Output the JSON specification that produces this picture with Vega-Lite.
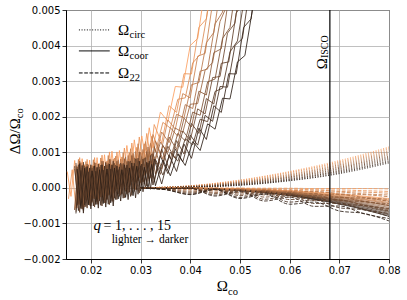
{
"$schema":"https://vega.github.io/schema/vega-lite/v6.json",
"width":323,"height":249,
"autosize":{"type":"none"},
"padding":{"left":66,"top":10,"right":18,"bottom":41},
"background":"white",
"config":{"view":{"stroke":"#000","strokeWidth":1},
"axis":{"labelFont":"DejaVu Sans","labelFontSize":10,"labelColor":"#000","tickColor":"#000","tickSize":4,"tickWidth":0.8,"domainColor":"#000","domainWidth":1,"gridColor":"#b0b0b0","gridWidth":0.8,"labelPadding":2},
"text":{"font":"Liberation Serif","color":"#000"}},
"datasets":{
"rise":[
{"k":1,"x":0.01525,"y":0.00046},{"k":1,"x":0.016,"y":-0.00024},{"k":1,"x":0.01675,"y":0.00077},{"k":1,"x":0.0175,"y":-0.00047},{"k":1,"x":0.01825,"y":0.00082},{"k":1,"x":0.019,"y":-0.00033},{"k":1,"x":0.01975,"y":0.00078},{"k":1,"x":0.0205,"y":-0.00027},{"k":1,"x":0.02125,"y":0.00085},{"k":1,"x":0.022,"y":-0.00019},{"k":1,"x":0.02275,"y":0.00093},{"k":1,"x":0.0235,"y":-0.0001},{"k":1,"x":0.02425,"y":0.00103},{"k":1,"x":0.025,"y":0.00009},{"k":1,"x":0.02575,"y":0.00105},{"k":1,"x":0.0265,"y":0.00022},{"k":1,"x":0.02725,"y":0.00119},{"k":1,"x":0.028,"y":0.00037},{"k":1,"x":0.02875,"y":0.00135},{"k":1,"x":0.0295,"y":0.00055},{"k":1,"x":0.03025,"y":0.00146},{"k":1,"x":0.031,"y":0.00085},{"k":1,"x":0.03175,"y":0.00169},{"k":1,"x":0.0325,"y":0.00111},{"k":1,"x":0.034,"y":0.00213},{"k":1,"x":0.0355,"y":0.00187},{"k":1,"x":0.037,"y":0.00285},{"k":1,"x":0.0385,"y":0.00283},{"k":1,"x":0.04,"y":0.004},{"k":1,"x":0.0415,"y":0.0042},{"k":1,"x":0.043,"y":0.00564},
{"k":2,"x":0.0155,"y":-0.00031},{"k":2,"x":0.01625,"y":0.00051},{"k":2,"x":0.017,"y":-0.00057},{"k":2,"x":0.01775,"y":0.00085},{"k":2,"x":0.0185,"y":-0.00053},{"k":2,"x":0.01925,"y":0.0008},{"k":2,"x":0.02,"y":-0.00038},{"k":2,"x":0.02075,"y":0.00085},{"k":2,"x":0.0215,"y":-0.00031},{"k":2,"x":0.02225,"y":0.00092},{"k":2,"x":0.023,"y":-0.00024},{"k":2,"x":0.02375,"y":0.00101},{"k":2,"x":0.0245,"y":-0.00015},{"k":2,"x":0.02525,"y":0.00101},{"k":2,"x":0.026,"y":0.00006},{"k":2,"x":0.02675,"y":0.00112},{"k":2,"x":0.0275,"y":0.00019},{"k":2,"x":0.02825,"y":0.00126},{"k":2,"x":0.029,"y":0.00034},{"k":2,"x":0.02975,"y":0.00143},{"k":2,"x":0.0305,"y":0.00063},{"k":2,"x":0.03125,"y":0.00153},{"k":2,"x":0.032,"y":0.00085},{"k":2,"x":0.03275,"y":0.00178},{"k":2,"x":0.03425,"y":0.00126},{"k":2,"x":0.03575,"y":0.00231},{"k":2,"x":0.03725,"y":0.00212},{"k":2,"x":0.03875,"y":0.00321},{"k":2,"x":0.04025,"y":0.0032},{"k":2,"x":0.04175,"y":0.00451},{"k":2,"x":0.04325,"y":0.00475},{"k":2,"x":0.04475,"y":0.00636},
{"k":3,"x":0.01725,"y":0.0006},{"k":3,"x":0.018,"y":-0.00036},{"k":3,"x":0.01875,"y":0.00065},{"k":3,"x":0.0195,"y":-0.00024},{"k":3,"x":0.02025,"y":0.00063},{"k":3,"x":0.021,"y":-0.00019},{"k":3,"x":0.02175,"y":0.00068},{"k":3,"x":0.0225,"y":-0.00012},{"k":3,"x":0.02325,"y":0.00076},{"k":3,"x":0.024,"y":-0.00004},{"k":3,"x":0.02475,"y":0.00084},{"k":3,"x":0.0255,"y":0.00012},{"k":3,"x":0.02625,"y":0.00087},{"k":3,"x":0.027,"y":0.00023},{"k":3,"x":0.02775,"y":0.00099},{"k":3,"x":0.0285,"y":0.00036},{"k":3,"x":0.02925,"y":0.00114},{"k":3,"x":0.03,"y":0.00059},{"k":3,"x":0.03075,"y":0.00124},{"k":3,"x":0.0315,"y":0.00078},{"k":3,"x":0.03225,"y":0.00145},{"k":3,"x":0.033,"y":0.00101},{"k":3,"x":0.0345,"y":0.00184},{"k":3,"x":0.036,"y":0.00168},{"k":3,"x":0.0375,"y":0.00249},{"k":3,"x":0.039,"y":0.00253},{"k":3,"x":0.0405,"y":0.00351},{"k":3,"x":0.042,"y":0.00375},{"k":3,"x":0.0435,"y":0.00496},{"k":3,"x":0.045,"y":0.00549},
{"k":4,"x":0.01675,"y":-0.00062},{"k":4,"x":0.0175,"y":0.0008},{"k":4,"x":0.01825,"y":-0.00058},{"k":4,"x":0.019,"y":0.00074},{"k":4,"x":0.01975,"y":-0.00044},{"k":4,"x":0.0205,"y":0.00079},{"k":4,"x":0.02125,"y":-0.00039},{"k":4,"x":0.022,"y":0.00084},{"k":4,"x":0.02275,"y":-0.00033},{"k":4,"x":0.0235,"y":0.00091},{"k":4,"x":0.02425,"y":-0.00025},{"k":4,"x":0.025,"y":0.00089},{"k":4,"x":0.02575,"y":-0.00006},{"k":4,"x":0.0265,"y":0.00099},{"k":4,"x":0.02725,"y":0.00004},{"k":4,"x":0.028,"y":0.0011},{"k":4,"x":0.02875,"y":0.00017},{"k":4,"x":0.0295,"y":0.00124},{"k":4,"x":0.03025,"y":0.00042},{"k":4,"x":0.031,"y":0.0013},{"k":4,"x":0.03175,"y":0.0006},{"k":4,"x":0.0325,"y":0.0015},{"k":4,"x":0.034,"y":0.00093},{"k":4,"x":0.0355,"y":0.00191},{"k":4,"x":0.037,"y":0.00165},{"k":4,"x":0.0385,"y":0.00265},{"k":4,"x":0.04,"y":0.00253},{"k":4,"x":0.0415,"y":0.0037},{"k":4,"x":0.043,"y":0.00378},{"k":4,"x":0.0445,"y":0.0052},
{"k":5,"x":0.017,"y":0.00063},{"k":5,"x":0.01775,"y":-0.00047},{"k":5,"x":0.0185,"y":0.00067},{"k":5,"x":0.01925,"y":-0.00035},{"k":5,"x":0.02,"y":0.00063},{"k":5,"x":0.02075,"y":-0.00031},{"k":5,"x":0.0215,"y":0.00068},{"k":5,"x":0.02225,"y":-0.00026},{"k":5,"x":0.023,"y":0.00073},{"k":5,"x":0.02375,"y":-0.00019},{"k":5,"x":0.0245,"y":0.0008},{"k":5,"x":0.02525,"y":-0.00004},{"k":5,"x":0.026,"y":0.00081},{"k":5,"x":0.02675,"y":0.00005},{"k":5,"x":0.0275,"y":0.00091},{"k":5,"x":0.02825,"y":0.00016},{"k":5,"x":0.029,"y":0.00102},{"k":5,"x":0.02975,"y":0.00029},{"k":5,"x":0.0305,"y":0.00108},{"k":5,"x":0.03125,"y":0.00052},{"k":5,"x":0.032,"y":0.00125},{"k":5,"x":0.03275,"y":0.00071},{"k":5,"x":0.03425,"y":0.00157},{"k":5,"x":0.03575,"y":0.00127},{"k":5,"x":0.03725,"y":0.00207},{"k":5,"x":0.03875,"y":0.00197},{"k":5,"x":0.04025,"y":0.0029},{"k":5,"x":0.04175,"y":0.00296},{"k":5,"x":0.04325,"y":0.00408},{"k":5,"x":0.04475,"y":0.00437},{"k":5,"x":0.04625,"y":0.00577},
{"k":6,"x":0.01725,"y":-0.00057},{"k":6,"x":0.018,"y":0.00071},{"k":6,"x":0.01875,"y":-0.00054},{"k":6,"x":0.0195,"y":0.00065},{"k":6,"x":0.02025,"y":-0.00041},{"k":6,"x":0.021,"y":0.0007},{"k":6,"x":0.02175,"y":-0.00036},{"k":6,"x":0.0225,"y":0.00075},{"k":6,"x":0.02325,"y":-0.00031},{"k":6,"x":0.024,"y":0.0008},{"k":6,"x":0.02475,"y":-0.00024},{"k":6,"x":0.0255,"y":0.00079},{"k":6,"x":0.02625,"y":-0.00007},{"k":6,"x":0.027,"y":0.00087},{"k":6,"x":0.02775,"y":0.00002},{"k":6,"x":0.0285,"y":0.00097},{"k":6,"x":0.02925,"y":0.00013},{"k":6,"x":0.03,"y":0.001},{"k":6,"x":0.03075,"y":0.00035},{"k":6,"x":0.0315,"y":0.00115},{"k":6,"x":0.03225,"y":0.00051},{"k":6,"x":0.033,"y":0.00132},{"k":6,"x":0.0345,"y":0.00081},{"k":6,"x":0.036,"y":0.00169},{"k":6,"x":0.0375,"y":0.00145},{"k":6,"x":0.039,"y":0.00234},{"k":6,"x":0.0405,"y":0.00223},{"k":6,"x":0.042,"y":0.00328},{"k":6,"x":0.0435,"y":0.00334},{"k":6,"x":0.045,"y":0.00461},{"k":6,"x":0.0465,"y":0.00494},{"k":6,"x":0.048,"y":0.00651},
{"k":7,"x":0.01675,"y":0.00053},{"k":7,"x":0.0175,"y":-0.00044},{"k":7,"x":0.01825,"y":0.00056},{"k":7,"x":0.019,"y":-0.00034},{"k":7,"x":0.01975,"y":0.00052},{"k":7,"x":0.0205,"y":-0.0003},{"k":7,"x":0.02125,"y":0.00056},{"k":7,"x":0.022,"y":-0.00026},{"k":7,"x":0.02275,"y":0.00061},{"k":7,"x":0.0235,"y":-0.00021},{"k":7,"x":0.02425,"y":0.00066},{"k":7,"x":0.025,"y":-0.00008},{"k":7,"x":0.02575,"y":0.00066},{"k":7,"x":0.0265,"y":0.0},{"k":7,"x":0.02725,"y":0.00074},{"k":7,"x":0.028,"y":0.00009},{"k":7,"x":0.02875,"y":0.00084},{"k":7,"x":0.0295,"y":0.00019},{"k":7,"x":0.03025,"y":0.00088},{"k":7,"x":0.031,"y":0.00039},{"k":7,"x":0.03175,"y":0.00102},{"k":7,"x":0.0325,"y":0.00054},{"k":7,"x":0.034,"y":0.00128},{"k":7,"x":0.0355,"y":0.001},{"k":7,"x":0.037,"y":0.00168},{"k":7,"x":0.0385,"y":0.00156},{"k":7,"x":0.04,"y":0.00235},{"k":7,"x":0.0415,"y":0.00237},{"k":7,"x":0.043,"y":0.00331},{"k":7,"x":0.0445,"y":0.00352},{"k":7,"x":0.046,"y":0.00468},{"k":7,"x":0.0475,"y":0.00516},
{"k":8,"x":0.017,"y":-0.00067},{"k":8,"x":0.01775,"y":0.00075},{"k":8,"x":0.0185,"y":-0.00064},{"k":8,"x":0.01925,"y":0.00067},{"k":8,"x":0.02,"y":-0.00051},{"k":8,"x":0.02075,"y":0.00071},{"k":8,"x":0.0215,"y":-0.00047},{"k":8,"x":0.02225,"y":0.00075},{"k":8,"x":0.023,"y":-0.00043},{"k":8,"x":0.02375,"y":0.0008},{"k":8,"x":0.0245,"y":-0.00038},{"k":8,"x":0.02525,"y":0.00075},{"k":8,"x":0.026,"y":-0.00021},{"k":8,"x":0.02675,"y":0.00082},{"k":8,"x":0.0275,"y":-0.00014},{"k":8,"x":0.02825,"y":0.00091},{"k":8,"x":0.029,"y":-0.00005},{"k":8,"x":0.02975,"y":0.00101},{"k":8,"x":0.0305,"y":0.00016},{"k":8,"x":0.03125,"y":0.00102},{"k":8,"x":0.032,"y":0.00029},{"k":8,"x":0.03275,"y":0.00116},{"k":8,"x":0.03425,"y":0.00053},{"k":8,"x":0.03575,"y":0.00143},{"k":8,"x":0.03725,"y":0.00108},{"k":8,"x":0.03875,"y":0.00196},{"k":8,"x":0.04025,"y":0.00171},{"k":8,"x":0.04175,"y":0.00272},{"k":8,"x":0.04325,"y":0.00261},{"k":8,"x":0.04475,"y":0.0038},{"k":8,"x":0.04625,"y":0.00391},{"k":8,"x":0.04775,"y":0.00535},
{"k":9,"x":0.01725,"y":0.00059},{"k":9,"x":0.018,"y":-0.00052},{"k":9,"x":0.01875,"y":0.00061},{"k":9,"x":0.0195,"y":-0.00042},{"k":9,"x":0.02025,"y":0.00056},{"k":9,"x":0.021,"y":-0.00039},{"k":9,"x":0.02175,"y":0.00059},{"k":9,"x":0.0225,"y":-0.00035},{"k":9,"x":0.02325,"y":0.00064},{"k":9,"x":0.024,"y":-0.0003},{"k":9,"x":0.02475,"y":0.00069},{"k":9,"x":0.0255,"y":-0.00017},{"k":9,"x":0.02625,"y":0.00066},{"k":9,"x":0.027,"y":-0.0001},{"k":9,"x":0.02775,"y":0.00074},{"k":9,"x":0.0285,"y":-0.00002},{"k":9,"x":0.02925,"y":0.00082},{"k":9,"x":0.03,"y":0.00015},{"k":9,"x":0.03075,"y":0.00084},{"k":9,"x":0.0315,"y":0.00026},{"k":9,"x":0.03225,"y":0.00096},{"k":9,"x":0.033,"y":0.00039},{"k":9,"x":0.0345,"y":0.00119},{"k":9,"x":0.036,"y":0.00082},{"k":9,"x":0.0375,"y":0.00153},{"k":9,"x":0.039,"y":0.00132},{"k":9,"x":0.0405,"y":0.00213},{"k":9,"x":0.042,"y":0.00204},{"k":9,"x":0.0435,"y":0.00298},{"k":9,"x":0.045,"y":0.00306},{"k":9,"x":0.0465,"y":0.0042},{"k":9,"x":0.048,"y":0.00451},{"k":9,"x":0.0495,"y":0.00594},
{"k":10,"x":0.01675,"y":-0.00062},{"k":10,"x":0.0175,"y":0.00065},{"k":10,"x":0.01825,"y":-0.0006},{"k":10,"x":0.019,"y":0.00058},{"k":10,"x":0.01975,"y":-0.00049},{"k":10,"x":0.0205,"y":0.00061},{"k":10,"x":0.02125,"y":-0.00046},{"k":10,"x":0.022,"y":0.00064},{"k":10,"x":0.02275,"y":-0.00042},{"k":10,"x":0.0235,"y":0.00068},{"k":10,"x":0.02425,"y":-0.00038},{"k":10,"x":0.025,"y":0.00064},{"k":10,"x":0.02575,"y":-0.00024},{"k":10,"x":0.0265,"y":0.00069},{"k":10,"x":0.02725,"y":-0.00018},{"k":10,"x":0.028,"y":0.00076},{"k":10,"x":0.02875,"y":-0.0001},{"k":10,"x":0.0295,"y":0.00084},{"k":10,"x":0.03025,"y":0.00008},{"k":10,"x":0.031,"y":0.00085},{"k":10,"x":0.03175,"y":0.00018},{"k":10,"x":0.0325,"y":0.00096},{"k":10,"x":0.034,"y":0.00038},{"k":10,"x":0.0355,"y":0.00117},{"k":10,"x":0.037,"y":0.00083},{"k":10,"x":0.0385,"y":0.0016},{"k":10,"x":0.04,"y":0.00134},{"k":10,"x":0.0415,"y":0.00222},{"k":10,"x":0.043,"y":0.00208},{"k":10,"x":0.0445,"y":0.0031},{"k":10,"x":0.046,"y":0.00313},{"k":10,"x":0.0475,"y":0.00435},{"k":10,"x":0.049,"y":0.00463},{"k":10,"x":0.0505,"y":0.00615},
{"k":11,"x":0.017,"y":0.0007},{"k":11,"x":0.01775,"y":-0.00069},{"k":11,"x":0.0185,"y":0.00072},{"k":11,"x":0.01925,"y":-0.00057},{"k":11,"x":0.02,"y":0.00065},{"k":11,"x":0.02075,"y":-0.00054},{"k":11,"x":0.0215,"y":0.00067},{"k":11,"x":0.02225,"y":-0.00051},{"k":11,"x":0.023,"y":0.00071},{"k":11,"x":0.02375,"y":-0.00047},{"k":11,"x":0.0245,"y":0.00075},{"k":11,"x":0.02525,"y":-0.00033},{"k":11,"x":0.026,"y":0.0007},{"k":11,"x":0.02675,"y":-0.00028},{"k":11,"x":0.0275,"y":0.00075},{"k":11,"x":0.02825,"y":-0.00021},{"k":11,"x":0.029,"y":0.00082},{"k":11,"x":0.02975,"y":-0.00014},{"k":11,"x":0.0305,"y":0.00081},{"k":11,"x":0.03125,"y":0.00005},{"k":11,"x":0.032,"y":0.00091},{"k":11,"x":0.03275,"y":0.00016},{"k":11,"x":0.03425,"y":0.00109},{"k":11,"x":0.03575,"y":0.00054},{"k":11,"x":0.03725,"y":0.00133},{"k":11,"x":0.03875,"y":0.00095},{"k":11,"x":0.04025,"y":0.00181},{"k":11,"x":0.04175,"y":0.00153},{"k":11,"x":0.04325,"y":0.00251},{"k":11,"x":0.04475,"y":0.00236},{"k":11,"x":0.04625,"y":0.0035},{"k":11,"x":0.04775,"y":0.00354},{"k":11,"x":0.04925,"y":0.00491},{"k":11,"x":0.05075,"y":0.00523},
{"k":12,"x":0.01725,"y":-0.00049},{"k":12,"x":0.018,"y":0.00049},{"k":12,"x":0.01875,"y":-0.00048},{"k":12,"x":0.0195,"y":0.00045},{"k":12,"x":0.02025,"y":-0.00038},{"k":12,"x":0.021,"y":0.00047},{"k":12,"x":0.02175,"y":-0.00036},{"k":12,"x":0.0225,"y":0.0005},{"k":12,"x":0.02325,"y":-0.00033},{"k":12,"x":0.024,"y":0.00053},{"k":12,"x":0.02475,"y":-0.00029},{"k":12,"x":0.0255,"y":0.00051},{"k":12,"x":0.02625,"y":-0.00017},{"k":12,"x":0.027,"y":0.00056},{"k":12,"x":0.02775,"y":-0.00012},{"k":12,"x":0.0285,"y":0.00061},{"k":12,"x":0.02925,"y":-0.00005},{"k":12,"x":0.03,"y":0.00062},{"k":12,"x":0.03075,"y":0.0001},{"k":12,"x":0.0315,"y":0.0007},{"k":12,"x":0.03225,"y":0.00019},{"k":12,"x":0.033,"y":0.0008},{"k":12,"x":0.0345,"y":0.00036},{"k":12,"x":0.036,"y":0.001},{"k":12,"x":0.0375,"y":0.00075},{"k":12,"x":0.039,"y":0.00138},{"k":12,"x":0.0405,"y":0.00121},{"k":12,"x":0.042,"y":0.00193},{"k":12,"x":0.0435,"y":0.00186},{"k":12,"x":0.045,"y":0.00271},{"k":12,"x":0.0465,"y":0.0028},{"k":12,"x":0.048,"y":0.00382},{"k":12,"x":0.0495,"y":0.00413},{"k":12,"x":0.051,"y":0.00542},
{"k":13,"x":0.01675,"y":0.00061},{"k":13,"x":0.0175,"y":-0.00064},{"k":13,"x":0.01825,"y":0.00063},{"k":13,"x":0.019,"y":-0.00053},{"k":13,"x":0.01975,"y":0.00056},{"k":13,"x":0.0205,"y":-0.00051},{"k":13,"x":0.02125,"y":0.00058},{"k":13,"x":0.022,"y":-0.00049},{"k":13,"x":0.02275,"y":0.00061},{"k":13,"x":0.0235,"y":-0.00046},{"k":13,"x":0.02425,"y":0.00064},{"k":13,"x":0.025,"y":-0.00033},{"k":13,"x":0.02575,"y":0.00059},{"k":13,"x":0.0265,"y":-0.00029},{"k":13,"x":0.02725,"y":0.00064},{"k":13,"x":0.028,"y":-0.00024},{"k":13,"x":0.02875,"y":0.00069},{"k":13,"x":0.0295,"y":-0.00018},{"k":13,"x":0.03025,"y":0.00067},{"k":13,"x":0.031,"y":-0.00001},{"k":13,"x":0.03175,"y":0.00075},{"k":13,"x":0.0325,"y":0.00008},{"k":13,"x":0.034,"y":0.0009},{"k":13,"x":0.0355,"y":0.0004},{"k":13,"x":0.037,"y":0.00109},{"k":13,"x":0.0385,"y":0.00073},{"k":13,"x":0.04,"y":0.00148},{"k":13,"x":0.0415,"y":0.0012},{"k":13,"x":0.043,"y":0.00204},{"k":13,"x":0.0445,"y":0.00187},{"k":13,"x":0.046,"y":0.00285},{"k":13,"x":0.0475,"y":0.00283},{"k":13,"x":0.049,"y":0.004},{"k":13,"x":0.0505,"y":0.0042},{"k":13,"x":0.052,"y":0.00564},
{"k":14,"x":0.017,"y":-0.00072},{"k":14,"x":0.01775,"y":0.00068},{"k":14,"x":0.0185,"y":-0.00071},{"k":14,"x":0.01925,"y":0.0006},{"k":14,"x":0.02,"y":-0.00059},{"k":14,"x":0.02075,"y":0.00062},{"k":14,"x":0.0215,"y":-0.00057},{"k":14,"x":0.02225,"y":0.00065},{"k":14,"x":0.023,"y":-0.00054},{"k":14,"x":0.02375,"y":0.00067},{"k":14,"x":0.0245,"y":-0.00051},{"k":14,"x":0.02525,"y":0.00061},{"k":14,"x":0.026,"y":-0.00037},{"k":14,"x":0.02675,"y":0.00065},{"k":14,"x":0.0275,"y":-0.00033},{"k":14,"x":0.02825,"y":0.0007},{"k":14,"x":0.029,"y":-0.00028},{"k":14,"x":0.02975,"y":0.00075},{"k":14,"x":0.0305,"y":-0.00011},{"k":14,"x":0.03125,"y":0.00072},{"k":14,"x":0.032,"y":-0.00004},{"k":14,"x":0.03275,"y":0.00081},{"k":14,"x":0.03425,"y":0.00011},{"k":14,"x":0.03575,"y":0.00092},{"k":14,"x":0.03725,"y":0.00046},{"k":14,"x":0.03875,"y":0.00123},{"k":14,"x":0.04025,"y":0.00083},{"k":14,"x":0.04175,"y":0.00168},{"k":14,"x":0.04325,"y":0.00136},{"k":14,"x":0.04475,"y":0.00231},{"k":14,"x":0.04625,"y":0.00212},{"k":14,"x":0.04775,"y":0.00321},{"k":14,"x":0.04925,"y":0.0032},{"k":14,"x":0.05075,"y":0.00451},{"k":14,"x":0.05225,"y":0.00475},{"k":14,"x":0.05375,"y":0.00636},
{"k":15,"x":0.01725,"y":0.00053},{"k":15,"x":0.018,"y":-0.00058},{"k":15,"x":0.01875,"y":0.00055},{"k":15,"x":0.0195,"y":-0.00048},{"k":15,"x":0.02025,"y":0.00048},{"k":15,"x":0.021,"y":-0.00047},{"k":15,"x":0.02175,"y":0.00051},{"k":15,"x":0.0225,"y":-0.00044},{"k":15,"x":0.02325,"y":0.00053},{"k":15,"x":0.024,"y":-0.00042},{"k":15,"x":0.02475,"y":0.00056},{"k":15,"x":0.0255,"y":-0.00031},{"k":15,"x":0.02625,"y":0.00051},{"k":15,"x":0.027,"y":-0.00027},{"k":15,"x":0.02775,"y":0.00056},{"k":15,"x":0.0285,"y":-0.00022},{"k":15,"x":0.02925,"y":0.00061},{"k":15,"x":0.03,"y":-0.00009},{"k":15,"x":0.03075,"y":0.00058},{"k":15,"x":0.0315,"y":-0.00002},{"k":15,"x":0.03225,"y":0.00066},{"k":15,"x":0.033,"y":0.00006},{"k":15,"x":0.0345,"y":0.00079},{"k":15,"x":0.036,"y":0.00034},{"k":15,"x":0.0375,"y":0.00095},{"k":15,"x":0.039,"y":0.00063},{"k":15,"x":0.0405,"y":0.0013},{"k":15,"x":0.042,"y":0.00105},{"k":15,"x":0.0435,"y":0.0018},{"k":15,"x":0.045,"y":0.00165},{"k":15,"x":0.0465,"y":0.00252},{"k":15,"x":0.048,"y":0.0025},{"k":15,"x":0.0495,"y":0.00354},{"k":15,"x":0.051,"y":0.00372},{"k":15,"x":0.0525,"y":0.00499},{"k":15,"x":0.054,"y":0.00546}
],
"sm":[
{"k":1,"t":"coor","x":0.03,"y":0},{"k":1,"t":"coor","x":0.04,"y":-0.00001},{"k":1,"t":"coor","x":0.05,"y":-0.00003},{"k":1,"t":"coor","x":0.06,"y":-0.00008},{"k":1,"t":"coor","x":0.068,"y":-0.00015},{"k":1,"t":"coor","x":0.074,"y":-0.00022},{"k":1,"t":"coor","x":0.08,"y":-0.0003},
{"k":2,"t":"coor","x":0.03,"y":0},{"k":2,"t":"coor","x":0.04,"y":-0.00001},{"k":2,"t":"coor","x":0.05,"y":-0.00003},{"k":2,"t":"coor","x":0.06,"y":-0.00009},{"k":2,"t":"coor","x":0.068,"y":-0.00017},{"k":2,"t":"coor","x":0.074,"y":-0.00024},{"k":2,"t":"coor","x":0.08,"y":-0.00034},
{"k":3,"t":"coor","x":0.03,"y":0},{"k":3,"t":"coor","x":0.04,"y":-0.00001},{"k":3,"t":"coor","x":0.05,"y":-0.00004},{"k":3,"t":"coor","x":0.06,"y":-0.0001},{"k":3,"t":"coor","x":0.068,"y":-0.00019},{"k":3,"t":"coor","x":0.074,"y":-0.00027},{"k":3,"t":"coor","x":0.08,"y":-0.00037},
{"k":4,"t":"coor","x":0.03,"y":0},{"k":4,"t":"coor","x":0.04,"y":-0.00001},{"k":4,"t":"coor","x":0.05,"y":-0.00004},{"k":4,"t":"coor","x":0.06,"y":-0.00011},{"k":4,"t":"coor","x":0.068,"y":-0.00021},{"k":4,"t":"coor","x":0.074,"y":-0.0003},{"k":4,"t":"coor","x":0.08,"y":-0.00041},
{"k":5,"t":"coor","x":0.03,"y":0},{"k":5,"t":"coor","x":0.04,"y":-0.00001},{"k":5,"t":"coor","x":0.05,"y":-0.00005},{"k":5,"t":"coor","x":0.06,"y":-0.00012},{"k":5,"t":"coor","x":0.068,"y":-0.00022},{"k":5,"t":"coor","x":0.074,"y":-0.00032},{"k":5,"t":"coor","x":0.08,"y":-0.00044},
{"k":6,"t":"coor","x":0.03,"y":0},{"k":6,"t":"coor","x":0.04,"y":-0.00001},{"k":6,"t":"coor","x":0.05,"y":-0.00005},{"k":6,"t":"coor","x":0.06,"y":-0.00013},{"k":6,"t":"coor","x":0.068,"y":-0.00024},{"k":6,"t":"coor","x":0.074,"y":-0.00035},{"k":6,"t":"coor","x":0.08,"y":-0.00048},
{"k":7,"t":"coor","x":0.03,"y":0},{"k":7,"t":"coor","x":0.04,"y":-0.00001},{"k":7,"t":"coor","x":0.05,"y":-0.00005},{"k":7,"t":"coor","x":0.06,"y":-0.00014},{"k":7,"t":"coor","x":0.068,"y":-0.00026},{"k":7,"t":"coor","x":0.074,"y":-0.00037},{"k":7,"t":"coor","x":0.08,"y":-0.00051},
{"k":8,"t":"coor","x":0.03,"y":0},{"k":8,"t":"coor","x":0.04,"y":-0.00001},{"k":8,"t":"coor","x":0.05,"y":-0.00006},{"k":8,"t":"coor","x":0.06,"y":-0.00015},{"k":8,"t":"coor","x":0.068,"y":-0.00028},{"k":8,"t":"coor","x":0.074,"y":-0.0004},{"k":8,"t":"coor","x":0.08,"y":-0.00055},
{"k":9,"t":"coor","x":0.03,"y":0},{"k":9,"t":"coor","x":0.04,"y":-0.00001},{"k":9,"t":"coor","x":0.05,"y":-0.00006},{"k":9,"t":"coor","x":0.06,"y":-0.00016},{"k":9,"t":"coor","x":0.068,"y":-0.0003},{"k":9,"t":"coor","x":0.074,"y":-0.00043},{"k":9,"t":"coor","x":0.08,"y":-0.00059},
{"k":10,"t":"coor","x":0.03,"y":0},{"k":10,"t":"coor","x":0.04,"y":-0.00001},{"k":10,"t":"coor","x":0.05,"y":-0.00006},{"k":10,"t":"coor","x":0.06,"y":-0.00017},{"k":10,"t":"coor","x":0.068,"y":-0.00031},{"k":10,"t":"coor","x":0.074,"y":-0.00045},{"k":10,"t":"coor","x":0.08,"y":-0.00062},
{"k":11,"t":"coor","x":0.03,"y":0},{"k":11,"t":"coor","x":0.04,"y":-0.00001},{"k":11,"t":"coor","x":0.05,"y":-0.00007},{"k":11,"t":"coor","x":0.06,"y":-0.00018},{"k":11,"t":"coor","x":0.068,"y":-0.00033},{"k":11,"t":"coor","x":0.074,"y":-0.00048},{"k":11,"t":"coor","x":0.08,"y":-0.00066},
{"k":12,"t":"coor","x":0.03,"y":0},{"k":12,"t":"coor","x":0.04,"y":-0.00001},{"k":12,"t":"coor","x":0.05,"y":-0.00007},{"k":12,"t":"coor","x":0.06,"y":-0.00019},{"k":12,"t":"coor","x":0.068,"y":-0.00035},{"k":12,"t":"coor","x":0.074,"y":-0.0005},{"k":12,"t":"coor","x":0.08,"y":-0.00069},
{"k":13,"t":"coor","x":0.03,"y":0},{"k":13,"t":"coor","x":0.04,"y":-0.00001},{"k":13,"t":"coor","x":0.05,"y":-0.00007},{"k":13,"t":"coor","x":0.06,"y":-0.0002},{"k":13,"t":"coor","x":0.068,"y":-0.00037},{"k":13,"t":"coor","x":0.074,"y":-0.00053},{"k":13,"t":"coor","x":0.08,"y":-0.00073},
{"k":14,"t":"coor","x":0.03,"y":0},{"k":14,"t":"coor","x":0.04,"y":-0.00001},{"k":14,"t":"coor","x":0.05,"y":-0.00008},{"k":14,"t":"coor","x":0.06,"y":-0.00021},{"k":14,"t":"coor","x":0.068,"y":-0.00039},{"k":14,"t":"coor","x":0.074,"y":-0.00056},{"k":14,"t":"coor","x":0.08,"y":-0.00076},
{"k":15,"t":"coor","x":0.03,"y":0},{"k":15,"t":"coor","x":0.04,"y":-0.00001},{"k":15,"t":"coor","x":0.05,"y":-0.00008},{"k":15,"t":"coor","x":0.06,"y":-0.00022},{"k":15,"t":"coor","x":0.068,"y":-0.0004},{"k":15,"t":"coor","x":0.074,"y":-0.00058},{"k":15,"t":"coor","x":0.08,"y":-0.0008},
{"k":1,"t":"circ","x":0.03,"y":0},{"k":1,"t":"circ","x":0.04,"y":0.00006},{"k":1,"t":"circ","x":0.05,"y":0.00022},{"k":1,"t":"circ","x":0.06,"y":0.00046},{"k":1,"t":"circ","x":0.068,"y":0.0007},{"k":1,"t":"circ","x":0.074,"y":0.00091},{"k":1,"t":"circ","x":0.08,"y":0.00115},
{"k":2,"t":"circ","x":0.03,"y":0},{"k":2,"t":"circ","x":0.04,"y":0.00006},{"k":2,"t":"circ","x":0.05,"y":0.00021},{"k":2,"t":"circ","x":0.06,"y":0.00044},{"k":2,"t":"circ","x":0.068,"y":0.00067},{"k":2,"t":"circ","x":0.074,"y":0.00088},{"k":2,"t":"circ","x":0.08,"y":0.00112},
{"k":3,"t":"circ","x":0.03,"y":0},{"k":3,"t":"circ","x":0.04,"y":0.00005},{"k":3,"t":"circ","x":0.05,"y":0.00019},{"k":3,"t":"circ","x":0.06,"y":0.00042},{"k":3,"t":"circ","x":0.068,"y":0.00065},{"k":3,"t":"circ","x":0.074,"y":0.00085},{"k":3,"t":"circ","x":0.08,"y":0.00109},
{"k":4,"t":"circ","x":0.03,"y":0},{"k":4,"t":"circ","x":0.04,"y":0.00005},{"k":4,"t":"circ","x":0.05,"y":0.00018},{"k":4,"t":"circ","x":0.06,"y":0.00039},{"k":4,"t":"circ","x":0.068,"y":0.00062},{"k":4,"t":"circ","x":0.074,"y":0.00082},{"k":4,"t":"circ","x":0.08,"y":0.00105},
{"k":5,"t":"circ","x":0.03,"y":0},{"k":5,"t":"circ","x":0.04,"y":0.00005},{"k":5,"t":"circ","x":0.05,"y":0.00017},{"k":5,"t":"circ","x":0.06,"y":0.00037},{"k":5,"t":"circ","x":0.068,"y":0.00059},{"k":5,"t":"circ","x":0.074,"y":0.00079},{"k":5,"t":"circ","x":0.08,"y":0.00102},
{"k":6,"t":"circ","x":0.03,"y":0},{"k":6,"t":"circ","x":0.04,"y":0.00004},{"k":6,"t":"circ","x":0.05,"y":0.00016},{"k":6,"t":"circ","x":0.06,"y":0.00035},{"k":6,"t":"circ","x":0.068,"y":0.00057},{"k":6,"t":"circ","x":0.074,"y":0.00076},{"k":6,"t":"circ","x":0.08,"y":0.00099},
{"k":7,"t":"circ","x":0.03,"y":0},{"k":7,"t":"circ","x":0.04,"y":0.00004},{"k":7,"t":"circ","x":0.05,"y":0.00015},{"k":7,"t":"circ","x":0.06,"y":0.00033},{"k":7,"t":"circ","x":0.068,"y":0.00054},{"k":7,"t":"circ","x":0.074,"y":0.00073},{"k":7,"t":"circ","x":0.08,"y":0.00096},
{"k":8,"t":"circ","x":0.03,"y":0},{"k":8,"t":"circ","x":0.04,"y":0.00003},{"k":8,"t":"circ","x":0.05,"y":0.00014},{"k":8,"t":"circ","x":0.06,"y":0.00031},{"k":8,"t":"circ","x":0.068,"y":0.00052},{"k":8,"t":"circ","x":0.074,"y":0.0007},{"k":8,"t":"circ","x":0.08,"y":0.00093},
{"k":9,"t":"circ","x":0.03,"y":0},{"k":9,"t":"circ","x":0.04,"y":0.00003},{"k":9,"t":"circ","x":0.05,"y":0.00013},{"k":9,"t":"circ","x":0.06,"y":0.0003},{"k":9,"t":"circ","x":0.068,"y":0.00049},{"k":9,"t":"circ","x":0.074,"y":0.00068},{"k":9,"t":"circ","x":0.08,"y":0.00089},
{"k":10,"t":"circ","x":0.03,"y":0},{"k":10,"t":"circ","x":0.04,"y":0.00003},{"k":10,"t":"circ","x":0.05,"y":0.00012},{"k":10,"t":"circ","x":0.06,"y":0.00028},{"k":10,"t":"circ","x":0.068,"y":0.00047},{"k":10,"t":"circ","x":0.074,"y":0.00065},{"k":10,"t":"circ","x":0.08,"y":0.00086},
{"k":11,"t":"circ","x":0.03,"y":0},{"k":11,"t":"circ","x":0.04,"y":0.00002},{"k":11,"t":"circ","x":0.05,"y":0.00011},{"k":11,"t":"circ","x":0.06,"y":0.00026},{"k":11,"t":"circ","x":0.068,"y":0.00044},{"k":11,"t":"circ","x":0.074,"y":0.00062},{"k":11,"t":"circ","x":0.08,"y":0.00083},
{"k":12,"t":"circ","x":0.03,"y":0},{"k":12,"t":"circ","x":0.04,"y":0.00002},{"k":12,"t":"circ","x":0.05,"y":0.0001},{"k":12,"t":"circ","x":0.06,"y":0.00024},{"k":12,"t":"circ","x":0.068,"y":0.00042},{"k":12,"t":"circ","x":0.074,"y":0.00059},{"k":12,"t":"circ","x":0.08,"y":0.0008},
{"k":13,"t":"circ","x":0.03,"y":0},{"k":13,"t":"circ","x":0.04,"y":0.00002},{"k":13,"t":"circ","x":0.05,"y":0.00009},{"k":13,"t":"circ","x":0.06,"y":0.00023},{"k":13,"t":"circ","x":0.068,"y":0.0004},{"k":13,"t":"circ","x":0.074,"y":0.00056},{"k":13,"t":"circ","x":0.08,"y":0.00076},
{"k":14,"t":"circ","x":0.03,"y":0},{"k":14,"t":"circ","x":0.04,"y":0.00002},{"k":14,"t":"circ","x":0.05,"y":0.00008},{"k":14,"t":"circ","x":0.06,"y":0.00021},{"k":14,"t":"circ","x":0.068,"y":0.00037},{"k":14,"t":"circ","x":0.074,"y":0.00054},{"k":14,"t":"circ","x":0.08,"y":0.00073},
{"k":15,"t":"circ","x":0.03,"y":0},{"k":15,"t":"circ","x":0.04,"y":0.00001},{"k":15,"t":"circ","x":0.05,"y":0.00007},{"k":15,"t":"circ","x":0.06,"y":0.0002},{"k":15,"t":"circ","x":0.068,"y":0.00035},{"k":15,"t":"circ","x":0.074,"y":0.00051},{"k":15,"t":"circ","x":0.08,"y":0.0007},
{"k":1,"t":"22","x":0.03,"y":0},{"k":1,"t":"22","x":0.035,"y":0},{"k":1,"t":"22","x":0.04,"y":0},{"k":1,"t":"22","x":0.045,"y":0},{"k":1,"t":"22","x":0.05,"y":-0.00001},{"k":1,"t":"22","x":0.055,"y":-0.00001},{"k":1,"t":"22","x":0.06,"y":-0.00001},{"k":1,"t":"22","x":0.065,"y":-0.00002},{"k":1,"t":"22","x":0.07,"y":-0.00002},{"k":1,"t":"22","x":0.075,"y":-0.00002},{"k":1,"t":"22","x":0.08,"y":-0.00003},
{"k":2,"t":"22","x":0.03,"y":0},{"k":2,"t":"22","x":0.035,"y":0},{"k":2,"t":"22","x":0.04,"y":0},{"k":2,"t":"22","x":0.045,"y":-0.00002},{"k":2,"t":"22","x":0.05,"y":-0.00001},{"k":2,"t":"22","x":0.055,"y":-0.00004},{"k":2,"t":"22","x":0.06,"y":-0.00003},{"k":2,"t":"22","x":0.065,"y":-0.00006},{"k":2,"t":"22","x":0.07,"y":-0.00006},{"k":2,"t":"22","x":0.075,"y":-0.00008},{"k":2,"t":"22","x":0.08,"y":-0.0001},
{"k":3,"t":"22","x":0.03,"y":0},{"k":3,"t":"22","x":0.035,"y":-0.00001},{"k":3,"t":"22","x":0.04,"y":-0.00003},{"k":3,"t":"22","x":0.045,"y":-0.00001},{"k":3,"t":"22","x":0.05,"y":-0.00005},{"k":3,"t":"22","x":0.055,"y":-0.00003},{"k":3,"t":"22","x":0.06,"y":-0.00007},{"k":3,"t":"22","x":0.065,"y":-0.00006},{"k":3,"t":"22","x":0.07,"y":-0.0001},{"k":3,"t":"22","x":0.075,"y":-0.00012},{"k":3,"t":"22","x":0.08,"y":-0.00015},
{"k":4,"t":"22","x":0.03,"y":0},{"k":4,"t":"22","x":0.035,"y":-0.00001},{"k":4,"t":"22","x":0.04,"y":0},{"k":4,"t":"22","x":0.045,"y":-0.00006},{"k":4,"t":"22","x":0.05,"y":-0.00002},{"k":4,"t":"22","x":0.055,"y":-0.00009},{"k":4,"t":"22","x":0.06,"y":-0.00006},{"k":4,"t":"22","x":0.065,"y":-0.00012},{"k":4,"t":"22","x":0.07,"y":-0.00012},{"k":4,"t":"22","x":0.075,"y":-0.00017},{"k":4,"t":"22","x":0.08,"y":-0.0002},
{"k":5,"t":"22","x":0.03,"y":0},{"k":5,"t":"22","x":0.035,"y":-0.00001},{"k":5,"t":"22","x":0.04,"y":-0.00005},{"k":5,"t":"22","x":0.045,"y":-0.00001},{"k":5,"t":"22","x":0.05,"y":-0.00008},{"k":5,"t":"22","x":0.055,"y":-0.00005},{"k":5,"t":"22","x":0.06,"y":-0.00013},{"k":5,"t":"22","x":0.065,"y":-0.0001},{"k":5,"t":"22","x":0.07,"y":-0.00017},{"k":5,"t":"22","x":0.075,"y":-0.00019},{"k":5,"t":"22","x":0.08,"y":-0.00025},
{"k":6,"t":"22","x":0.03,"y":0},{"k":6,"t":"22","x":0.035,"y":-0.00001},{"k":6,"t":"22","x":0.04,"y":0},{"k":6,"t":"22","x":0.045,"y":-0.00009},{"k":6,"t":"22","x":0.05,"y":-0.00004},{"k":6,"t":"22","x":0.055,"y":-0.00014},{"k":6,"t":"22","x":0.06,"y":-0.0001},{"k":6,"t":"22","x":0.065,"y":-0.0002},{"k":6,"t":"22","x":0.07,"y":-0.00019},{"k":6,"t":"22","x":0.075,"y":-0.00027},{"k":6,"t":"22","x":0.08,"y":-0.00032},
{"k":7,"t":"22","x":0.03,"y":0},{"k":7,"t":"22","x":0.035,"y":-0.00002},{"k":7,"t":"22","x":0.04,"y":-0.00009},{"k":7,"t":"22","x":0.045,"y":-0.00002},{"k":7,"t":"22","x":0.05,"y":-0.00014},{"k":7,"t":"22","x":0.055,"y":-0.00007},{"k":7,"t":"22","x":0.06,"y":-0.0002},{"k":7,"t":"22","x":0.065,"y":-0.00016},{"k":7,"t":"22","x":0.07,"y":-0.00027},{"k":7,"t":"22","x":0.075,"y":-0.00029},{"k":7,"t":"22","x":0.08,"y":-0.00038},
{"k":8,"t":"22","x":0.03,"y":0},{"k":8,"t":"22","x":0.035,"y":-0.00002},{"k":8,"t":"22","x":0.04,"y":-0.00001},{"k":8,"t":"22","x":0.045,"y":-0.00013},{"k":8,"t":"22","x":0.05,"y":-0.00005},{"k":8,"t":"22","x":0.055,"y":-0.0002},{"k":8,"t":"22","x":0.06,"y":-0.00013},{"k":8,"t":"22","x":0.065,"y":-0.00028},{"k":8,"t":"22","x":0.07,"y":-0.00026},{"k":8,"t":"22","x":0.075,"y":-0.00038},{"k":8,"t":"22","x":0.08,"y":-0.00045},
{"k":9,"t":"22","x":0.03,"y":0},{"k":9,"t":"22","x":0.035,"y":-0.00003},{"k":9,"t":"22","x":0.04,"y":-0.00012},{"k":9,"t":"22","x":0.045,"y":-0.00003},{"k":9,"t":"22","x":0.05,"y":-0.00018},{"k":9,"t":"22","x":0.055,"y":-0.00009},{"k":9,"t":"22","x":0.06,"y":-0.00026},{"k":9,"t":"22","x":0.065,"y":-0.00021},{"k":9,"t":"22","x":0.07,"y":-0.00035},{"k":9,"t":"22","x":0.075,"y":-0.00039},{"k":9,"t":"22","x":0.08,"y":-0.0005},
{"k":10,"t":"22","x":0.03,"y":0},{"k":10,"t":"22","x":0.035,"y":-0.00002},{"k":10,"t":"22","x":0.04,"y":-0.00001},{"k":10,"t":"22","x":0.045,"y":-0.00016},{"k":10,"t":"22","x":0.05,"y":-0.00007},{"k":10,"t":"22","x":0.055,"y":-0.00026},{"k":10,"t":"22","x":0.06,"y":-0.00017},{"k":10,"t":"22","x":0.065,"y":-0.00036},{"k":10,"t":"22","x":0.07,"y":-0.00034},{"k":10,"t":"22","x":0.075,"y":-0.00049},{"k":10,"t":"22","x":0.08,"y":-0.00058},
{"k":11,"t":"22","x":0.03,"y":0},{"k":11,"t":"22","x":0.035,"y":-0.00004},{"k":11,"t":"22","x":0.04,"y":-0.00015},{"k":11,"t":"22","x":0.045,"y":-0.00003},{"k":11,"t":"22","x":0.05,"y":-0.00022},{"k":11,"t":"22","x":0.055,"y":-0.00012},{"k":11,"t":"22","x":0.06,"y":-0.00033},{"k":11,"t":"22","x":0.065,"y":-0.00027},{"k":11,"t":"22","x":0.07,"y":-0.00046},{"k":11,"t":"22","x":0.075,"y":-0.0005},{"k":11,"t":"22","x":0.08,"y":-0.00065},
{"k":12,"t":"22","x":0.03,"y":0},{"k":12,"t":"22","x":0.035,"y":-0.00003},{"k":12,"t":"22","x":0.04,"y":-0.00001},{"k":12,"t":"22","x":0.045,"y":-0.0002},{"k":12,"t":"22","x":0.05,"y":-0.00009},{"k":12,"t":"22","x":0.055,"y":-0.00032},{"k":12,"t":"22","x":0.06,"y":-0.00021},{"k":12,"t":"22","x":0.065,"y":-0.00044},{"k":12,"t":"22","x":0.07,"y":-0.00043},{"k":12,"t":"22","x":0.075,"y":-0.00061},{"k":12,"t":"22","x":0.08,"y":-0.00072},
{"k":13,"t":"22","x":0.03,"y":0},{"k":13,"t":"22","x":0.035,"y":-0.00005},{"k":13,"t":"22","x":0.04,"y":-0.00018},{"k":13,"t":"22","x":0.045,"y":-0.00004},{"k":13,"t":"22","x":0.05,"y":-0.00027},{"k":13,"t":"22","x":0.055,"y":-0.00015},{"k":13,"t":"22","x":0.06,"y":-0.0004},{"k":13,"t":"22","x":0.065,"y":-0.00034},{"k":13,"t":"22","x":0.07,"y":-0.00056},{"k":13,"t":"22","x":0.075,"y":-0.00062},{"k":13,"t":"22","x":0.08,"y":-0.0008},
{"k":14,"t":"22","x":0.03,"y":0},{"k":14,"t":"22","x":0.035,"y":-0.00003},{"k":14,"t":"22","x":0.04,"y":-0.00001},{"k":14,"t":"22","x":0.045,"y":-0.00023},{"k":14,"t":"22","x":0.05,"y":-0.00011},{"k":14,"t":"22","x":0.055,"y":-0.00037},{"k":14,"t":"22","x":0.06,"y":-0.00026},{"k":14,"t":"22","x":0.065,"y":-0.00052},{"k":14,"t":"22","x":0.07,"y":-0.00051},{"k":14,"t":"22","x":0.075,"y":-0.00073},{"k":14,"t":"22","x":0.08,"y":-0.00086},
{"k":15,"t":"22","x":0.03,"y":0},{"k":15,"t":"22","x":0.035,"y":-0.00005},{"k":15,"t":"22","x":0.04,"y":-0.00019},{"k":15,"t":"22","x":0.045,"y":-0.00005},{"k":15,"t":"22","x":0.05,"y":-0.0003},{"k":15,"t":"22","x":0.055,"y":-0.00018},{"k":15,"t":"22","x":0.06,"y":-0.00046},{"k":15,"t":"22","x":0.065,"y":-0.0004},{"k":15,"t":"22","x":0.07,"y":-0.00065},{"k":15,"t":"22","x":0.075,"y":-0.00072},{"k":15,"t":"22","x":0.08,"y":-0.00093}
]},
"encoding":{
"x":{"field":"x","type":"quantitative","scale":{"domain":[0.015,0.08],"nice":false,"zero":false},"axis":{"values":[0.02,0.03,0.04,0.05,0.06,0.07,0.08],"format":".2f","title":null,"labelFlush":false,"grid":true}},
"y":{"field":"y","type":"quantitative","scale":{"domain":[-0.002,0.005],"nice":false,"zero":false},"axis":{"values":[-0.002,-0.001,0,0.001,0.002,0.003,0.004,0.005],"format":".3f","title":null,"grid":true}}
},
"layer":[
{"data":{"name":"rise"},"mark":{"type":"line","clip":true,"strokeWidth":1,"opacity":0.85},
"encoding":{"color":{"field":"k","type":"quantitative","scale":{"domain":[1,15],"range":["#fb9f5f","#2b1e16"]},"legend":null},"detail":{"field":"k","type":"nominal"}}},
{"data":{"name":"sm"},"mark":{"type":"line","clip":true,"strokeWidth":1,"opacity":0.85,"interpolate":"monotone"},
"encoding":{"color":{"field":"k","type":"quantitative","scale":{"domain":[1,15],"range":["#fb9f5f","#2b1e16"]},"legend":null},
"strokeDash":{"field":"t","type":"nominal","scale":{"domain":["circ","coor","22"],"range":[[1,1.65],[1,0],[3.7,1.6]]},"legend":null},
"detail":{"field":"k","type":"nominal"}}},
{"data":{"values":[{"x":0.0681,"y":-0.002,"y2":0.005}]},"mark":{"type":"rule","color":"#000","strokeWidth":1.2},"encoding":{"y2":{"field":"y2"}}},
{"data":{"values":[{"t":"circ","x":0.0176,"x2":0.0238,"y":0.00444},{"t":"coor","x":0.0176,"x2":0.0238,"y":0.00385},{"t":"22","x":0.0176,"x2":0.0238,"y":0.00323}]},
"mark":{"type":"rule","color":"#000","strokeWidth":1},
"encoding":{"x2":{"field":"x2"},"strokeDash":{"field":"t","type":"nominal","scale":{"domain":["circ","coor","22"],"range":[[1,1.65],[1,0],[3.7,1.6]]},"legend":null}}},
{"data":{"values":[{"x":0.02546,"y":0.00444,"m":"Ω","s":"circ"},{"x":0.02546,"y":0.00385,"m":"Ω","s":"coor"},{"x":0.02546,"y":0.00323,"m":"Ω","s":"22"}]},
"layer":[
{"mark":{"type":"text","align":"left","baseline":"alphabetic","dy":5,"fontSize":15},"encoding":{"text":{"field":"m"}}},
{"mark":{"type":"text","align":"left","baseline":"alphabetic","dx":11.5,"dy":8.5,"fontSize":10.5},"encoding":{"text":{"field":"s"}}}
]},
{"data":{"values":[{"x":0.00574,"y":0.00196,"m":"ΔΩ/Ω","s":"co"}]},
"layer":[
{"mark":{"type":"text","align":"right","baseline":"alphabetic","angle":270,"fontSize":15},"encoding":{"text":{"field":"m"}}},
{"mark":{"type":"text","align":"left","baseline":"alphabetic","angle":270,"dy":3.5,"fontSize":10.5},"encoding":{"text":{"field":"s"}}}
]},
{"data":{"values":[{"x":0.0476,"y":-0.0029,"m":"Ω","s":"co"}]},
"layer":[
{"mark":{"type":"text","align":"right","baseline":"alphabetic","fontSize":15},"encoding":{"text":{"field":"m"}}},
{"mark":{"type":"text","align":"left","baseline":"alphabetic","dy":3.5,"fontSize":10.5},"encoding":{"text":{"field":"s"}}}
]},
{"data":{"values":[{"x":0.06745,"y":0.00365,"m":"Ω","s":"ISCO"}]},
"layer":[
{"mark":{"type":"text","align":"right","baseline":"alphabetic","angle":270,"fontSize":15},"encoding":{"text":{"field":"m"}}},
{"mark":{"type":"text","align":"left","baseline":"alphabetic","angle":270,"dy":1.5,"fontSize":10},"encoding":{"text":{"field":"s"}}}
]},
{"data":{"values":[{"x":0.02204,"y":-0.00119,"m":"q","s":"= 1, . . . , 15"}]},
"layer":[
{"mark":{"type":"text","align":"right","baseline":"alphabetic","fontSize":15,"fontStyle":"italic"},"encoding":{"text":{"field":"m"}}},
{"mark":{"type":"text","align":"left","baseline":"alphabetic","dx":2.5,"fontSize":14},"encoding":{"text":{"field":"s"}}}
]},
{"data":{"values":[{"x":0.0319,"y":-0.00155,"m":"lighter → darker"}]},
"mark":{"type":"text","align":"center","baseline":"alphabetic","fontSize":11.5},"encoding":{"text":{"field":"m"}}}
]
}
